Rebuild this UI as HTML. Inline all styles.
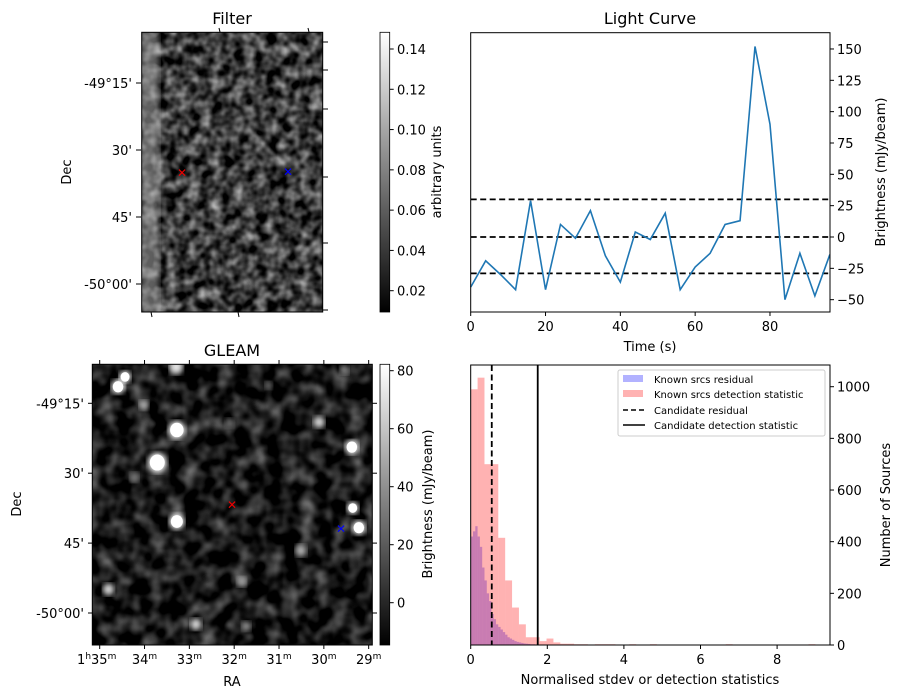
<!DOCTYPE html>
<html><head><meta charset="utf-8"><style>
body{margin:0;background:#fff}
svg{display:block;font-family:"DejaVu Sans","Liberation Sans",sans-serif}
</style></head><body>
<svg id="fig" width="904" height="699" viewBox="0 0 904 699" xmlns="http://www.w3.org/2000/svg">
<defs>
<filter id="noise1" x="0" y="0" width="100%" height="100%" color-interpolation-filters="sRGB">
<feTurbulence type="fractalNoise" baseFrequency="0.09" numOctaves="2" seed="4"/>
<feColorMatrix type="matrix" values="1.15 0 0 0 -0.34  1.15 0 0 0 -0.34  1.15 0 0 0 -0.34  0 0 0 0 1"/>
</filter>
<filter id="noise2" x="0" y="0" width="100%" height="100%" color-interpolation-filters="sRGB">
<feTurbulence type="fractalNoise" baseFrequency="0.06" numOctaves="2" seed="9"/>
<feColorMatrix type="matrix" values="0.85 0 0 0 -0.33  0.85 0 0 0 -0.33  0.85 0 0 0 -0.33  0 0 0 0 1"/>
</filter>
<filter id="blur3" color-interpolation-filters="sRGB"><feGaussianBlur stdDeviation="3"/></filter>
<linearGradient id="cb" x1="0" y1="1" x2="0" y2="0"><stop offset="0" stop-color="#000"/><stop offset="1" stop-color="#fff"/></linearGradient>
<clipPath id="clipF"><rect x="141.7" y="32.3" width="181" height="279.7"/></clipPath>
<clipPath id="clipG"><rect x="92.3" y="364.3" width="280" height="280.7"/></clipPath>
</defs>

<g>
<text x="232" y="24" font-size="16" text-anchor="middle">Filter</text>
<g clip-path="url(#clipF)">
<rect x="141.7" y="32.3" width="181" height="279.7" filter="url(#noise1)"/>
<rect x="141" y="32" width="18" height="280" fill="#bbb" opacity="0.5" filter="url(#blur3)"/>
</g>
<rect x="141.7" y="32.3" width="181" height="279.7" fill="none" stroke="#000" stroke-width="1"/>
<g font-size="13" text-anchor="end">
<line x1="136" y1="83" x2="141" y2="83" stroke="#000"/><text x="132" y="88">-49°15'</text>
<line x1="136" y1="150" x2="141" y2="150" stroke="#000"/><text x="132" y="155">30'</text>
<line x1="136" y1="217" x2="141" y2="217" stroke="#000"/><text x="132" y="222">45'</text>
<line x1="136" y1="284" x2="141" y2="284" stroke="#000"/><text x="132" y="289">-50°00'</text>
</g>
<g stroke="#000">
<line x1="323" y1="42" x2="328" y2="42"/><line x1="323" y1="70" x2="328" y2="70"/><line x1="323" y1="109" x2="328" y2="109"/><line x1="323" y1="177" x2="328" y2="177"/><line x1="323" y1="243" x2="328" y2="243"/><line x1="323" y1="310" x2="328" y2="310"/>
<line x1="219" y1="28" x2="220" y2="32"/><line x1="308" y1="28" x2="309" y2="32"/><line x1="151" y1="312" x2="152" y2="317"/><line x1="238" y1="312" x2="239" y2="317"/>
</g>
<text x="71" y="172" font-size="13" text-anchor="middle" transform="rotate(-90 71 172)">Dec</text>
<text x="182" y="177" font-size="12" fill="#e00" text-anchor="middle">✕</text>
<text x="288" y="176" font-size="12" fill="#00f" text-anchor="middle">✕</text>
<rect x="380" y="32.3" width="9.7" height="279.7" fill="url(#cb)" stroke="#000" stroke-width="0.8"/>
<g id="cb1ticks" font-size="13"></g>
<text x="441" y="172" font-size="13" text-anchor="middle" transform="rotate(-90 441 172)">arbitrary units</text>
</g>

<g>
<text x="232" y="356" font-size="16" text-anchor="middle">GLEAM</text>
<g clip-path="url(#clipG)">
<rect x="92.3" y="364.3" width="280" height="280.7" filter="url(#noise2)"/>
<g id="blobs"></g>
</g>
<rect x="92.3" y="364.3" width="280" height="280.7" fill="none" stroke="#000"/>
<g id="gleamTicks" font-size="13"></g>
<text x="21" y="504" font-size="13" text-anchor="middle" transform="rotate(-90 21 504)">Dec</text>
<text x="232" y="686" font-size="13" text-anchor="middle">RA</text>
<text x="232" y="509" font-size="12" fill="#e00" text-anchor="middle">✕</text>
<text x="341" y="533" font-size="12" fill="#00f" text-anchor="middle">✕</text>
<rect x="380" y="364.3" width="9.7" height="280.7" fill="url(#cb)" stroke="#000" stroke-width="0.8"/>
<g id="cb2ticks" font-size="13"></g>
<text x="432" y="504" font-size="13" text-anchor="middle" transform="rotate(-90 432 504)">Brightness (mJy/beam)</text>
</g>

<g>
<text x="650" y="24" font-size="16" text-anchor="middle">Light Curve</text>
<g id="lc"></g>
<rect x="470.7" y="32.7" width="359.3" height="279.3" fill="none" stroke="#000"/>
<text x="650" y="351" font-size="13" text-anchor="middle">Time (s)</text>
<text x="885" y="172" font-size="13" text-anchor="middle" transform="rotate(-90 885 172)">Brightness (mJy/beam)</text>
</g>

<g>
<g id="hist"></g>
<rect x="470.7" y="365" width="359.3" height="280" fill="none" stroke="#000"/>
<text x="650" y="684" font-size="13" text-anchor="middle">Normalised stdev or detection statistics</text>
<text x="890" y="505" font-size="13" text-anchor="middle" transform="rotate(-90 890 505)">Number of Sources</text>
<g font-size="10">
<rect x="618" y="370" width="207" height="66" fill="#fff" stroke="#ccc" rx="2"/>
<rect x="623" y="375" width="20" height="7" fill="#0000ff" opacity="0.3"/><text x="654" y="383">Known srcs residual</text>
<rect x="623" y="390" width="20" height="7" fill="#ff0000" opacity="0.3"/><text x="654" y="398">Known srcs detection statistic</text>
<line x1="623" y1="410" x2="645" y2="410" stroke="#000" stroke-width="1.5" stroke-dasharray="5,3"/><text x="654" y="414">Candidate residual</text>
<line x1="623" y1="425" x2="645" y2="425" stroke="#000" stroke-width="1.5"/><text x="654" y="429">Candidate detection statistic</text>
</g>
</g>
</svg>
<script>
const lcTimes=[0,4,8,12,16,20,24,28,32,36,40,44,48,52,56,60,64,68,72,76,80,84,88,92,96];
const lcValues=[-40,-19,-30,-42,29,-42,10,-1,21,-15,-36,4,-2,19,-42,-24,-13,10,13,152,90,-50,-13,-47,-14];
const lcThresholds=[30,0,-29];
const lcXTicks=[0,20,40,60,80];
const lcYTicks=[-50,-25,0,25,50,75,100,125,150];
const redBinWidth=0.18;
const redCounts=[990,1035,700,700,415,250,145,80,30,30,15,25,10,5,5,3,3,2,3,3,3,2,0,3,0,0,3,0,0,0,0,0,0,0,0,0,0,3,0,0,0,0,0,0,0,0,0,0,0,3];
const blueBinWidth=0.06;
const blueCounts=[420,440,460,420,380,300,250,200,170,120,100,80,70,60,50,40,30,25,20,15,12,10,8,6,5,4,3,3,2,2];
const candResidual=[0.55];
const candDetection=[1.75];
const histXTicks=[0,2,4,6,8];
const histYTicks=[0,200,400,600,800,1000];
const cb1Ticks=[0.02,0.04,0.06,0.08,0.10,0.12,0.14];
const cb2Ticks=[0,20,40,60,80];
const raTicks=[35,34,33,32,31,30,29];
const decTicks=["-49°15'","30'","45'","-50°00'"];
const srcX=[0.117,0.092,0.184,0.302,0.232,0.302,0.81,0.927,0.93,0.952,0.058,0.37,0.55,0.745,0.533,0.15,0.30,0.9,0.49,0.63];
const srcY=[0.045,0.08,0.145,0.234,0.35,0.56,0.206,0.295,0.512,0.582,0.802,0.926,0.933,0.664,0.775,0.403,0.01,0.02,0.21,0.075];
const srcR=[6,7,5,9,10,8,6,7,6,7,6,6,5,6,5,5,7,5,5,4];
const srcB=[1,1,0.7,1,1,1,0.85,1,1,1,0.85,0.85,0.6,0.7,0.65,0.5,0.9,0.55,0.45,0.45];

const NS="http://www.w3.org/2000/svg";
function mk(tag,attrs,parent,txt){const e=document.createElementNS(NS,tag);for(const k in attrs)e.setAttribute(k,attrs[k]);if(txt!==undefined)e.textContent=txt;parent.appendChild(e);return e;}
const fmt=v=>(v<0?'\u2212':'')+Math.abs(v);

const lcX=t=>470.7+t*3.741;
const lcY=v=>237-v*1.2535;
const lc=document.getElementById('lc');
lcThresholds.forEach((v,i)=>{
 const l=mk('line',{x1:470.7,x2:830,y1:lcY(v),y2:lcY(v),stroke:'#000','stroke-width':1.8,'stroke-dasharray':'6,3.5'},lc);
 
 
});
const pts=lcTimes.map((t,i)=>lcX(t)+','+lcY(lcValues[i])).join(' ');
const pl=mk('polyline',{points:pts,fill:'none',stroke:'#1f77b4','stroke-width':1.6},lc);


lcXTicks.forEach(t=>{
 mk('line',{x1:lcX(t),x2:lcX(t),y1:312,y2:316,stroke:'#000'},lc);
 const tx=mk('text',{x:lcX(t),y:331,'font-size':13,'text-anchor':'middle'},lc,t);
 
 
});
lcYTicks.forEach(v=>{
 mk('line',{x1:830,x2:834,y1:lcY(v),y2:lcY(v),stroke:'#000'},lc);
 const tx=mk('text',{x:837,y:lcY(v)+5,'font-size':13},lc,fmt(v));
 
 
});

const hX=v=>470.7+v*38.3;
const hY=c=>645-c*0.2583;
const hist=document.getElementById('hist');
blueCounts.forEach((c,i)=>{if(!c)return;
 const r=mk('rect',{x:hX(i*blueBinWidth),y:hY(c),width:blueBinWidth*38.3,height:645-hY(c),fill:'#0000ff','fill-opacity':0.3},hist);
 
 
});
redCounts.forEach((c,i)=>{if(!c)return;
 const r=mk('rect',{x:hX(i*redBinWidth),y:hY(c),width:redBinWidth*38.3,height:645-hY(c),fill:'#ff0000','fill-opacity':0.3},hist);
 
 
});
candResidual.forEach(v=>{
 const l=mk('line',{x1:hX(v),x2:hX(v),y1:365,y2:645,stroke:'#000','stroke-width':1.8,'stroke-dasharray':'6,3.5'},hist);
 
 
});
candDetection.forEach(v=>{
 const l=mk('line',{x1:hX(v),x2:hX(v),y1:365,y2:645,stroke:'#000','stroke-width':1.8},hist);
 
 
});
histXTicks.forEach(v=>{
 mk('line',{x1:hX(v),x2:hX(v),y1:645,y2:649,stroke:'#000'},hist);
 const tx=mk('text',{x:hX(v),y:664,'font-size':13,'text-anchor':'middle'},hist,v);
 
 
});
histYTicks.forEach(v=>{
 mk('line',{x1:830,x2:834,y1:hY(v),y2:hY(v),stroke:'#000'},hist);
 const tx=mk('text',{x:837,y:hY(v)+5,'font-size':13},hist,v);
 
 
});

const cb1=document.getElementById('cb1ticks');
cb1Ticks.forEach(v=>{const y=290.7-(v-0.02)*(290.7-49)/0.12;
 mk('line',{x1:389.7,x2:393.7,y1:y,y2:y,stroke:'#000'},cb1);
 const tx=mk('text',{x:397,y:y+5},cb1,v.toFixed(2));
 
 
});
const cb2=document.getElementById('cb2ticks');
cb2Ticks.forEach(v=>{const y=602.7-v*(602.7-370.7)/80;
 mk('line',{x1:389.7,x2:393.7,y1:y,y2:y,stroke:'#000'},cb2);
 const tx=mk('text',{x:397,y:y+5},cb2,v);
 
 
});

const gt=document.getElementById('gleamTicks');
raTicks.forEach((m,i)=>{const x=99.7+i*44.83;
 mk('line',{x1:x,x2:x,y1:645,y2:649,stroke:'#000'},gt);
 mk('line',{x1:x,x2:x,y1:360,y2:364,stroke:'#000'},gt);
 const tx=mk('text',{x:i==0?x-3:x,y:664,'text-anchor':'middle'},gt);
 
 
 if(i==0){mk('tspan',{},tx,'1');mk('tspan',{'font-size':9,dy:-5},tx,'h');mk('tspan',{dy:5},tx,'35');}
 else mk('tspan',{},tx,String(m));
 mk('tspan',{'font-size':9,dy:-5},tx,'m');
});
decTicks.forEach((d,i)=>{const y=403.3+i*69.9;
 mk('line',{x1:88,x2:92.3,y1:y,y2:y,stroke:'#000'},gt);
 mk('line',{x1:372.3,x2:377,y1:y,y2:y,stroke:'#000'},gt);
 const tx=mk('text',{x:84,y:y+5,'text-anchor':'end'},gt,d);
 
 
});

const bl=document.getElementById('blobs');
srcX.forEach((sx,i)=>{const b=Math.round(255*srcB[i]);
 const c=mk('ellipse',{cx:92.3+sx*280,cy:364.3+srcY[i]*280.7,rx:srcR[i]*0.95,ry:srcR[i],fill:`rgb(${b},${b},${b})`,filter:'url(#blur3)'},bl);
 
 
 if(srcB[i]>0.95){const c2=mk('ellipse',{cx:92.3+sx*280,cy:364.3+srcY[i]*280.7,rx:srcR[i]*0.75,ry:srcR[i]*0.8,fill:'#fff'},bl);
  
  }
});
</script>
</body></html>
